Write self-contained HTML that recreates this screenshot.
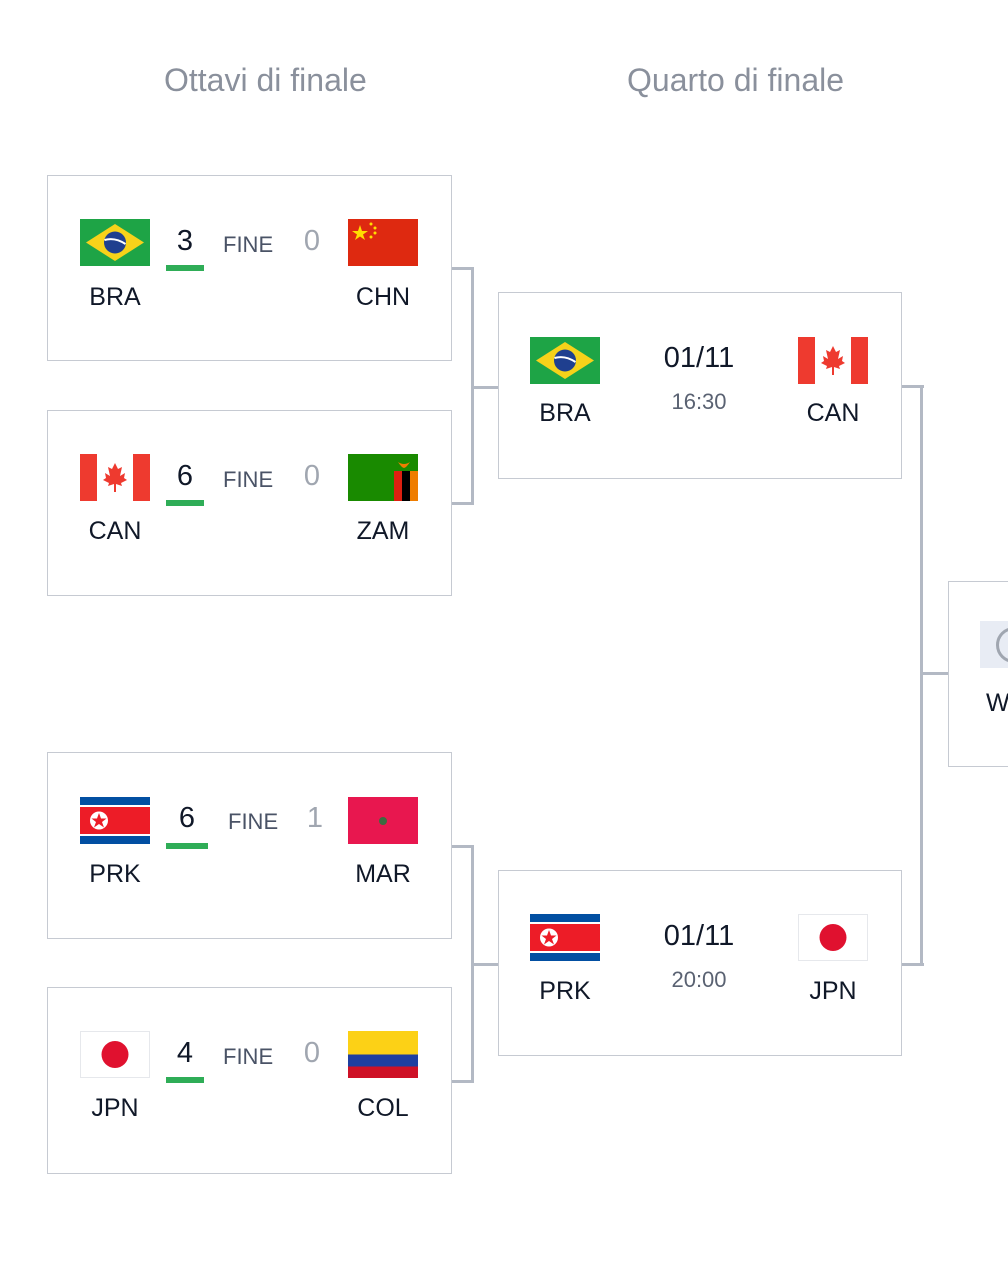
<!DOCTYPE html>
<html><head><meta charset="utf-8">
<style>
body{margin:0;width:1008px;height:1283px;background:#fff;position:relative;overflow:hidden;font-family:"Liberation Sans",sans-serif;}
.a{position:absolute}
.box{position:absolute;border:1.5px solid #c6cad2;background:#fff;box-sizing:border-box}
.hd{position:absolute;font-size:32px;color:#8a909c;top:62px}
.ln{position:absolute;background:#b3b9c4}
.nm{position:absolute;font-size:25px;color:#101828;width:100px;text-align:center}
.sc{position:absolute;font-size:29px;color:#101828;width:40px;text-align:center}
.sl{position:absolute;font-size:29px;color:#a0a6b0;width:30px;text-align:center}
.fn{position:absolute;font-size:22px;color:#4a5366}
.bar{position:absolute;height:6px;background:#2fad57}
.dt{position:absolute;font-size:29px;color:#101828;width:120px;text-align:center}
.tm{position:absolute;font-size:22px;color:#5a6272;width:120px;text-align:center}
svg.f{position:absolute;width:70px;height:47px}
</style></head><body>
<div class="hd" style="left:164px">Ottavi di finale</div>
<div class="hd" style="left:627px">Quarto di finale</div>

<svg width="0" height="0" style="position:absolute">
<defs>
<g id="bra"><rect width="70" height="47" fill="#1ea446"/><polygon points="35,5 64,23.5 35,42 6,23.5" fill="#f7d21a"/><circle cx="35" cy="23.5" r="11" fill="#1f3f8f"/><path d="M24.5,21 Q35,18 45.5,25" stroke="#fff" stroke-width="2" fill="none"/></g>
<g id="chn"><rect width="70" height="47" fill="#de2910"/><polygon points="12,6 14,12 20,12 15,15.5 17,21 12,17.5 7,21 9,15.5 4,12 10,12" fill="#ffde00"/><circle cx="23" cy="5" r="1.5" fill="#ffde00"/><circle cx="27" cy="9" r="1.5" fill="#ffde00"/><circle cx="27" cy="14" r="1.5" fill="#ffde00"/><circle cx="23" cy="18" r="1.5" fill="#ffde00"/></g>
<g id="can"><rect width="70" height="47" fill="#fff"/><rect width="17" height="47" fill="#ee3a2f"/><rect x="53" width="17" height="47" fill="#ee3a2f"/><polygon points="35,9 38,15 42,13 40,22 45,19 44,24 47,26 41,29 42,32 36,30 36,38 34,38 34,30 28,32 29,29 23,26 26,24 25,19 30,22 28,13 32,15" fill="#ee3a2f"/></g>
<g id="zam"><rect width="70" height="47" fill="#198a00"/><rect x="46" y="17" width="8" height="30" fill="#de2010"/><rect x="54" y="17" width="8" height="30" fill="#000"/><rect x="62" y="17" width="8" height="30" fill="#ef7d00"/><path d="M50,8 Q56,12 62,8 Q58,14 56,14 Q54,14 50,8z" fill="#ef7d00"/></g>
<g id="prk"><rect width="70" height="47" fill="#024fa2"/><rect y="8" width="70" height="31" fill="#fff"/><rect y="10" width="70" height="27" fill="#ed1c27"/><circle cx="19" cy="23.5" r="9" fill="#fff"/><polygon points="19,16 21,21.5 26.5,21.5 22,25 24,30.5 19,27 14,30.5 16,25 11.5,21.5 17,21.5" fill="#ed1c27"/></g>
<g id="mar"><rect width="70" height="47" fill="#e8174f"/><circle cx="35" cy="24" r="4" fill="#3c6b40"/></g>
<g id="jpn"><rect x="0.5" y="0.5" width="69" height="46" fill="#fff" stroke="#e6e8ec"/><circle cx="35" cy="23.5" r="13.5" fill="#e0112f"/></g>
<g id="col"><rect width="70" height="47" fill="#fcd116"/><rect y="23.5" width="70" height="12" fill="#1e3fa0"/><rect y="35.5" width="70" height="11.5" fill="#ce1126"/></g>
</defs></svg>

<div class="ln" style="left:451px;top:267px;width:23px;height:3px"></div>
<div class="ln" style="left:451px;top:502px;width:23px;height:3px"></div>
<div class="ln" style="left:471px;top:267px;width:3px;height:238px"></div>
<div class="ln" style="left:471px;top:386px;width:28px;height:3px"></div>
<div class="ln" style="left:451px;top:845px;width:23px;height:3px"></div>
<div class="ln" style="left:451px;top:1080px;width:23px;height:3px"></div>
<div class="ln" style="left:471px;top:845px;width:3px;height:238px"></div>
<div class="ln" style="left:471px;top:963px;width:28px;height:3px"></div>
<div class="ln" style="left:901px;top:385px;width:23px;height:3px"></div>
<div class="ln" style="left:901px;top:963px;width:23px;height:3px"></div>
<div class="ln" style="left:920px;top:385px;width:3px;height:581px"></div>
<div class="ln" style="left:920px;top:672px;width:29px;height:3px"></div>

<div class="box" style="left:47px;top:175px;width:405px;height:186px"></div>
<div class="box" style="left:47px;top:410px;width:405px;height:186px"></div>
<div class="box" style="left:47px;top:752px;width:405px;height:187px"></div>
<div class="box" style="left:47px;top:987px;width:405px;height:187px"></div>
<div class="box" style="left:498px;top:292px;width:404px;height:187px"></div>
<div class="box" style="left:498px;top:870px;width:404px;height:186px"></div>
<div class="box" style="left:948px;top:581px;width:80px;height:186px"></div>
<div class="a" style="left:980px;top:621px;width:40px;height:47px;background:#e8ecf4"></div>
<div class="a" style="left:996px;top:627px;width:30px;height:30px;border:3px solid #a0a6b0;border-radius:50%"></div>
<div class="nm" style="left:986px;top:689px;text-align:left">W</div>

<svg class="f" style="left:80px;top:219px"><use href="#bra"/></svg>
<svg class="f" style="left:348px;top:219px"><use href="#chn"/></svg>
<div class="sc" style="left:165px;top:225px">3</div><div class="bar" style="left:166px;top:265px;width:38px"></div>
<div class="fn" style="left:223px;top:232px">FINE</div>
<div class="sl" style="left:297px;top:225px">0</div>
<div class="nm" style="left:65px;top:283px">BRA</div><div class="nm" style="left:333px;top:283px">CHN</div>

<svg class="f" style="left:80px;top:454px"><use href="#can"/></svg>
<svg class="f" style="left:348px;top:454px"><use href="#zam"/></svg>
<div class="sc" style="left:165px;top:460px">6</div><div class="bar" style="left:166px;top:500px;width:38px"></div>
<div class="fn" style="left:223px;top:467px">FINE</div>
<div class="sl" style="left:297px;top:460px">0</div>
<div class="nm" style="left:65px;top:517px">CAN</div><div class="nm" style="left:333px;top:517px">ZAM</div>

<svg class="f" style="left:80px;top:797px"><use href="#prk"/></svg>
<svg class="f" style="left:348px;top:797px"><use href="#mar"/></svg>
<div class="sc" style="left:167px;top:802px">6</div><div class="bar" style="left:166px;top:843px;width:42px"></div>
<div class="fn" style="left:228px;top:809px">FINE</div>
<div class="sl" style="left:300px;top:802px">1</div>
<div class="nm" style="left:65px;top:860px">PRK</div><div class="nm" style="left:333px;top:860px">MAR</div>

<svg class="f" style="left:80px;top:1031px"><use href="#jpn"/></svg>
<svg class="f" style="left:348px;top:1031px"><use href="#col"/></svg>
<div class="sc" style="left:165px;top:1037px">4</div><div class="bar" style="left:166px;top:1077px;width:38px"></div>
<div class="fn" style="left:223px;top:1044px">FINE</div>
<div class="sl" style="left:297px;top:1037px">0</div>
<div class="nm" style="left:65px;top:1094px">JPN</div><div class="nm" style="left:333px;top:1094px">COL</div>

<svg class="f" style="left:530px;top:337px"><use href="#bra"/></svg>
<svg class="f" style="left:798px;top:337px"><use href="#can"/></svg>
<div class="dt" style="left:639px;top:342px">01/11</div>
<div class="tm" style="left:639px;top:389px">16:30</div>
<div class="nm" style="left:515px;top:399px">BRA</div><div class="nm" style="left:783px;top:399px">CAN</div>

<svg class="f" style="left:530px;top:914px"><use href="#prk"/></svg>
<svg class="f" style="left:798px;top:914px"><use href="#jpn"/></svg>
<div class="dt" style="left:639px;top:920px">01/11</div>
<div class="tm" style="left:639px;top:967px">20:00</div>
<div class="nm" style="left:515px;top:977px">PRK</div><div class="nm" style="left:783px;top:977px">JPN</div>
</body></html>
